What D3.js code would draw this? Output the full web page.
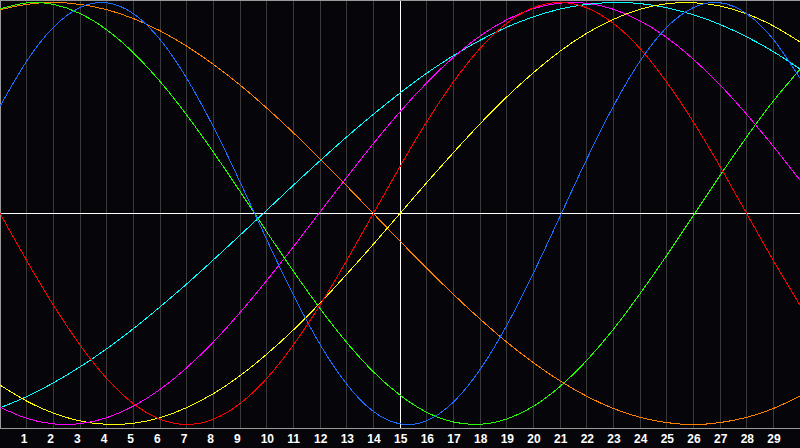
<!DOCTYPE html>
<html>
<head>
<meta charset="utf-8">
<script src="https://cdn.jsdelivr.net/npm/d3@7/dist/d3.min.js"></script>
<style>
  html, body { margin: 0; padding: 0; background: #000; }
  svg { display: block; }
</style>
</head>
<body>
<svg id="chart" width="800" height="448"></svg>
<script>
// Days 0..30 across the chart
const days = d3.range(0, 31);
const tickLabels = d3.range(1, 30).map(String);

// Values (percent, -100..100)
const red     = [0,-22.3,-43.4,-62.3,-78.2,-90.1,-97.5,-100,-97.5,-90.1,-78.2,-62.3,-43.4,-22.3,0,22.3,43.4,62.3,78.2,90.1,97.5,100,97.5,90.1,78.2,62.3,43.4,22.3,0,-22.3,-43.4];
const green   = [97,99.8,99.1,94.8,87.1,76.2,62.6,46.7,29.1,10.5,-8.6,-27.3,-45,-61.1,-75,-86.1,-94.2,-98.8,-99.9,-97.4,-91.4,-82,-69.7,-54.9,-38,-19.9,-1,18,36.3,53.3,68.3];
const blue    = [50.8,72.2,88.2,97.6,99.9,94.7,82.5,64.1,41.1,15,-12.3,-38.6,-62,-80.9,-93.8,-99.7,-98.2,-89.4,-74,-53.1,-28.3,-1.4,25.7,50.8,72.2,88.2,97.6,99.9,94.7,82.5,64.1];
const orange  = [96.6,99.1,100,99.1,96.6,92.4,86.6,79.3,70.7,60.9,50,38.3,25.9,13.1,0,-13.1,-25.9,-38.3,-50,-60.9,-70.7,-79.3,-86.6,-92.4,-96.6,-99.1,-100,-99.1,-96.6,-92.4,-86.6];
const magenta = [-91.8,-97.1,-99.7,-99.6,-96.8,-91.3,-83.4,-73.1,-60.9,-47,-31.8,-15.8,0.7,17.1,33.1,48.2,61.9,74,84.1,91.8,97.1,99.7,99.6,96.8,91.3,83.4,73.1,60.9,47,31.8,15.8];
const yellow  = [-81.3,-88.9,-94.6,-98.3,-99.9,-99.4,-96.8,-92,-85.4,-76.9,-66.7,-55.2,-42.5,-28.8,-14.6,0,14.6,28.8,42.5,55.2,66.7,76.9,85.4,92,96.8,99.4,99.9,98.3,94.6,88.9,81.3];
const cyan    = [-92.1,-86.8,-80.3,-72.7,-64.1,-54.6,-44.3,-33.4,-22,-10.3,1.5,13.4,25,36.3,47,57.1,66.5,74.8,82.1,88.3,93.2,96.9,99.1,100,99.5,97.5,94.2,89.6,83.7,76.7,68.5];

const seriesNames  = ["orange","cyan","yellow","magenta","green","blue","red"];
const seriesValues = [orange, cyan, yellow, magenta, green, blue, red];
const seriesColors = ["#ff8000","#00ffff","#ffff00","#ff00ff","#22ff00","#1c6cff","#ff0000"];

const W = 800, H = 448, plotBottom = 428;
const svg = d3.select("#chart");

svg.append("rect").attr("width", W).attr("height", H).attr("fill", "#060509");

const x = d3.scaleLinear().domain([0, 30]).range([0, 800]);
const y = d3.scaleLinear().domain([-100, 100]).range([424.5, 2.5]);

// vertical day grid
const gridG = svg.append("g");
gridG.selectAll("line").data(d3.range(1, 30)).join("line")
  .attr("x1", d => Math.floor(x(d)) + 0.5).attr("x2", d => Math.floor(x(d)) + 0.5)
  .attr("y1", 0).attr("y2", plotBottom)
  .attr("stroke", d => d === 15 ? "#ffffff" : "#3a3a3a")
  .attr("stroke-width", 1)
  .attr("shape-rendering", "crispEdges");

// horizontal zero line
svg.append("line")
  .attr("x1", 0).attr("x2", W)
  .attr("y1", Math.floor(y(0)) + 0.5).attr("y2", Math.floor(y(0)) + 0.5)
  .attr("stroke", "#ffffff").attr("stroke-width", 1)
  .attr("shape-rendering", "crispEdges");

// frame
svg.append("path")
  .attr("d", `M0.5,${plotBottom + 0.5} V0.5 H${W}`)
  .attr("fill", "none").attr("stroke", "#9a9a9a").attr("stroke-width", 1)
  .attr("shape-rendering", "crispEdges");
svg.append("line")
  .attr("x1", 0).attr("x2", W).attr("y1", plotBottom + 0.5).attr("y2", plotBottom + 0.5)
  .attr("stroke", "#9a9a9a").attr("stroke-width", 1)
  .attr("shape-rendering", "crispEdges");

// curves
const line = d3.line()
  .x((d, i) => x(days[i]))
  .y(d => y(d))
  .curve(d3.curveNatural);

svg.append("g").selectAll("path").data(seriesValues).join("path")
  .attr("d", d => line(d))
  .attr("fill", "none")
  .attr("stroke", (d, i) => seriesColors[i])
  .attr("stroke-width", 1)
  .attr("shape-rendering", "crispEdges");

// day labels
svg.append("g").selectAll("text").data(tickLabels).join("text")
  .attr("x", (d, i) => x(i + 1) - 6)
  .attr("y", 443)
  .attr("fill", "#ffffff")
  .attr("font-family", "'Liberation Sans', Arial, sans-serif")
  .attr("font-weight", "bold")
  .attr("font-size", "12px")
  .text(d => d);
</script>
</body>
</html>
